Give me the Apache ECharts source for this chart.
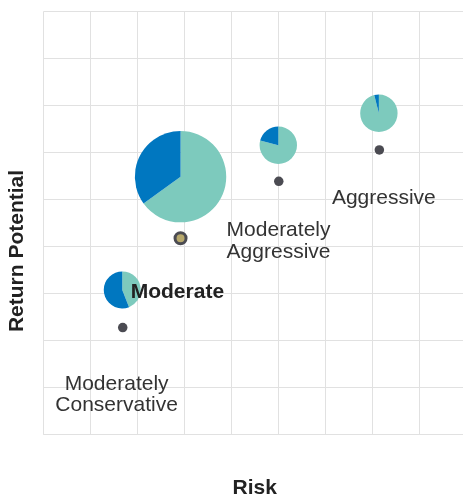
<!DOCTYPE html>
<html>
<head>
<meta charset="utf-8">
<script src="https://cdn.jsdelivr.net/npm/echarts@6/dist/echarts.min.js"></script>
<style>
html,body{margin:0;padding:0;background:#fff;}
#c{width:463px;height:495px;}
</style>
</head>
<body>
<div id="c"></div>
<script>
// ---- data ----
const dotRisk = [1.69, 2.92, 5.01, 7.15];
const dotReturn = [2.28, 4.18, 5.39, 6.06];
const pieRisk = [1.68, 2.92, 5.00, 7.14];
const pieReturn = [3.08, 5.49, 6.16, 6.84];
const pieTeal = [44, 65, 79, 96];
const pieBlue = [56, 35, 21, 4];
const labelTexts = ['Moderately\nConservative', 'Moderate', 'Moderately\nAggressive', 'Aggressive'];
const labelRisk = [1.56, 1.86, 3.90, 6.14];
const labelReturn = [0.855, 3.04, 4.12, 5.03];
const axisNames = { x: 'Risk', y: 'Return Potential' };

// ---- styles ----
const pieRadius = [18.5, 45.7, 18.7, 18.7];
const TEAL = '#7dcabd', BLUE = '#0077c0';
const FONT = '"Liberation Sans", Arial, Helvetica, sans-serif';

const chart = echarts.init(document.getElementById('c'));

const dotData = dotRisk.map((x, i) => {
  const d = { value: [x, dotReturn[i]] };
  if (i === 1) {
    d.symbolSize = 11;
    d.itemStyle = { color: '#b7a86c', borderColor: '#4b4b52', borderWidth: 3, opacity: 1 };
  }
  return d;
});

const labelData = labelTexts.map((t, i) => ({
  value: [labelRisk[i], labelReturn[i]],
  name: t,
  label: i === 1
    ? { fontWeight: 'bold', color: '#222', fontSize: 21, align: 'left' }
    : { align: i === 0 ? 'center' : 'left' }
}));

const axisCommon = {
  type: 'value', min: 0, max: 9, interval: 1,
  axisLabel: { show: false }, axisTick: { show: false },
  axisLine: { show: false },
  splitLine: { show: true, lineStyle: { color: '#e1e1e1', width: 1 } }
};

chart.setOption({
  animation: false,
  grid: { left: 43.3, top: 11.7, width: 423, height: 423, outerBoundsMode: 'none', containLabel: false },
  xAxis: Object.assign({}, axisCommon, {
    name: axisNames.x, nameLocation: 'middle', nameGap: 43,
    nameTextStyle: { fontFamily: FONT, fontSize: 21, fontWeight: 'bold', color: '#222' }
  }),
  yAxis: Object.assign({}, axisCommon),
  graphic: [{
    type: 'text', x: 17, y: 251, rotation: Math.PI / 2,
    style: { text: axisNames.y, fontFamily: FONT, fontSize: 21, fontWeight: 'bold', fill: '#222',
      align: 'center', verticalAlign: 'middle' }
  }],
  series: [
    {
      type: 'scatter', symbol: 'circle', symbolSize: 9.5, z: 5,
      itemStyle: { color: '#4b4b52', opacity: 1 }, data: dotData, silent: true
    },
    {
      type: 'scatter', symbolSize: 0, z: 20, silent: true,
      itemStyle: { opacity: 1 },
      label: { show: true, position: 'inside', formatter: p => p.name,
        fontFamily: FONT, fontSize: 21, color: '#333', lineHeight: 21.5, verticalAlign: 'middle' },
      data: labelData
    }
  ]
});

const pies = pieRisk.map((x, i) => ({
  type: 'pie', silent: true, z: 3,
  center: chart.convertToPixel({ gridIndex: 0 }, [x, pieReturn[i]]),
  radius: [0, pieRadius[i]],
  startAngle: 90, clockwise: true,
  label: { show: false }, labelLine: { show: false },
  itemStyle: { borderWidth: 0 },
  data: [
    { value: pieTeal[i], itemStyle: { color: TEAL } },
    { value: pieBlue[i], itemStyle: { color: BLUE } }
  ]
}));
const opt = chart.getOption();
chart.setOption({ series: opt.series.concat(pies) });
</script>
</body>
</html>
